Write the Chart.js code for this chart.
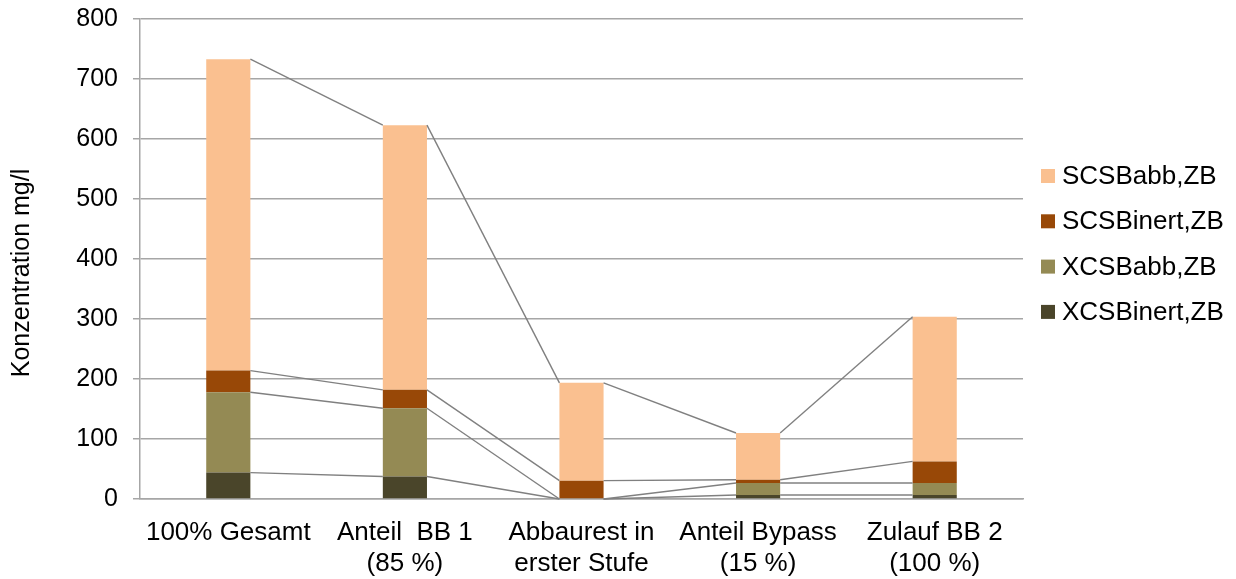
<!DOCTYPE html>
<html>
<head>
<meta charset="utf-8">
<title>Konzentration mg/l</title>
<script src="https://cdn.jsdelivr.net/npm/chart.js@4/dist/chart.umd.min.js"></script>
<style>
  html, body { margin: 0; padding: 0; background: #ffffff; }
  #wrap { width: 1236px; height: 579px; position: relative; }
</style>
</head>
<body>
<div id="wrap"><canvas id="chart" width="1236" height="579"></canvas></div>
<script>
// Categories (two-line labels)
const categories = [
  ['100% Gesamt'],
  ['Anteil  BB 1', '(85 %)'],
  ['Abbaurest in', 'erster Stufe'],
  ['Anteil Bypass', '(15 %)'],
  ['Zulauf BB 2', '(100 %)']
];

// Series values, mg/l (stacked bottom to top)
const xcsbInert = [44, 37.4, 0, 6.6, 6.6];
const xcsbAbb   = [134, 113.9, 0, 20.1, 20.1];
const scsbInert = [36, 30.6, 30.6, 5.4, 36];
const scsbAbb   = [519, 441.2, 163, 77.9, 240.9];

const seriesNames = ['XCSBinert,ZB', 'XCSBabb,ZB', 'SCSBinert,ZB', 'SCSBabb,ZB'];
const seriesColors = ['#4a452a', '#948a54', '#984807', '#fac090'];

// Y-axis ticks and title
const yMin = 0, yMax = 800, yStep = 100;
const yTitle = 'Konzentration mg/l';

const FONT = "'Liberation Sans', Arial, sans-serif";
const GRID = '#a6a6a6';

// Connector lines between neighbouring stacks (top of each segment)
const seriesLinesPlugin = {
  id: 'seriesLines',
  afterDatasetsDraw(chart) {
    const ctx = chart.ctx;
    ctx.save();
    ctx.strokeStyle = '#808080';
    ctx.lineWidth = 1.4;
    chart.data.datasets.forEach((ds, di) => {
      const meta = chart.getDatasetMeta(di);
      for (let i = 0; i < meta.data.length - 1; i++) {
        const a = meta.data[i], b = meta.data[i + 1];
        ctx.beginPath();
        ctx.moveTo(a.x + a.width / 2, a.y);
        ctx.lineTo(b.x - b.width / 2, b.y);
        ctx.stroke();
      }
    });
    ctx.restore();
  }
};

// Rotated y-axis title and the legend at the right (top series first)
const sideTextPlugin = {
  id: 'sideText',
  afterDraw(chart) {
    const ctx = chart.ctx;
    ctx.save();
    ctx.font = '25px ' + FONT;
    ctx.fillStyle = '#000000';
    ctx.textAlign = 'center';
    ctx.textBaseline = 'middle';
    ctx.translate(22, 273);
    ctx.rotate(-Math.PI / 2);
    ctx.fillText(yTitle, 0, 0);
    ctx.restore();

    ctx.save();
    ctx.font = '26px ' + FONT;
    ctx.textBaseline = 'middle';
    ctx.textAlign = 'left';
    const x0 = 1041, y0 = 176, gap = 45.3, box = 14;
    const order = [3, 2, 1, 0];
    order.forEach((di, k) => {
      const yc = y0 + k * gap;
      ctx.fillStyle = seriesColors[di];
      ctx.fillRect(x0, yc - box / 2, box, box);
      ctx.fillStyle = '#000000';
      ctx.fillText(seriesNames[di], x0 + 21, yc + 1);
    });
    ctx.restore();
  }
};

const seriesData = [xcsbInert, xcsbAbb, scsbInert, scsbAbb];

new Chart(document.getElementById('chart'), {
  type: 'bar',
  data: {
    labels: categories,
    datasets: seriesData.map((vals, i) => ({
      label: seriesNames[i],
      data: vals,
      backgroundColor: seriesColors[i],
      borderWidth: 0,
      categoryPercentage: 1,
      barPercentage: 0.25
    }))
  },
  options: {
    responsive: false,
    animation: false,
    layout: { padding: { top: 19, right: 213, bottom: 0, left: 0 } },
    plugins: {
      legend: { display: false },
      tooltip: { enabled: false }
    },
    scales: {
      x: {
        stacked: true,
        grid: { display: false, drawTicks: false },
        border: { display: true, color: GRID, width: 1.5 },
        ticks: {
          color: '#000000',
          font: { family: FONT, size: 26, lineHeight: 1.17 },
          padding: 19,
          maxRotation: 0,
          autoSkip: false
        },
        afterFit(scale) {
          scale.height = 80;
          scale.paddingLeft = 0; scale.paddingRight = 0;
        }
      },
      y: {
        stacked: true,
        min: yMin,
        max: yMax,
        grid: { color: GRID, lineWidth: 1.5, drawTicks: true, tickLength: 7, tickColor: GRID },
        border: { display: true, color: GRID, width: 1.5 },
        ticks: {
          stepSize: yStep,
          color: '#000000',
          font: { family: FONT, size: 25 },
          padding: 15
        },
        title: { display: false },
        afterFit(scale) {
          scale.width = 140;
          scale.paddingTop = 0; scale.paddingBottom = 0;
        }
      }
    }
  },
  plugins: [seriesLinesPlugin, sideTextPlugin]
});
</script>
</body>
</html>
